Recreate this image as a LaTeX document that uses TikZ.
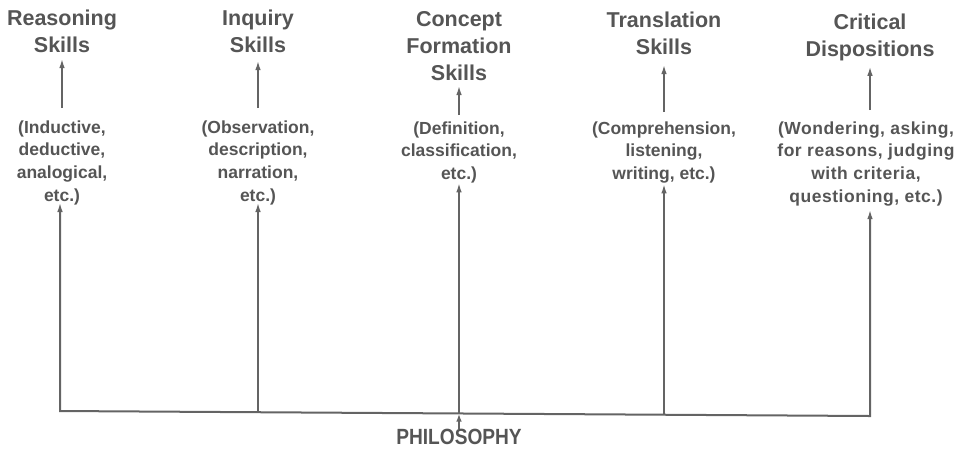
\documentclass[tikz,border=0pt]{standalone}
\usepackage{fontspec}
\usepackage{graphicx}
\setmainfont{Liberation Sans}
\usetikzlibrary{arrows.meta}
\definecolor{ink}{HTML}{555555}
\definecolor{rule}{HTML}{646464}
\begin{document}
\begin{tikzpicture}[x=1pt,y=-1pt,
  every node/.style={inner sep=0pt, outer sep=0pt, text=ink, align=center, anchor=north},
  title/.style={font=\fontsize{21.5}{27}\selectfont\bfseries},
  desc/.style={font=\fontsize{17.5}{22.7}\selectfont\bfseries},
  tip/.style={-{Latex[length=10pt,width=5.5pt]}},
  link/.style={draw=rule, line width=2pt, tip}]
  \useasboundingbox (0,0) rectangle (960,448);

  % skill titles
  \node[title] (t1) at (62,10.3)  {Reasoning\\Skills};
  \node[title] (t2) at (258,10.3) {Inquiry\\Skills};
  \node[title] (t3) at (459,11.8) {Concept\\Formation\\Skills};
  \node[title] (t4) at (664,12.3) {Translation\\Skills};
  \node[title] (t5) at (870,14.3) {Critical\\Dispositions};

  % examples of each skill
  \node[desc] (d1) at (62,120.6)  {(Inductive,\\deductive,\\analogical,\\etc.)};
  \node[desc] (d2) at (258,120.6) {(Observation,\\description,\\narration,\\etc.)};
  \node[desc] (d3) at (459,121.6) {(Definition,\\classification,\\etc.)};
  \node[desc] (d4) at (664,121.6) {(Comprehension,\\listening,\\writing, etc.)};
  \node[desc, font=\fontsize{17.5}{22.7}\selectfont\bfseries\addfontfeature{LetterSpace=3}]
    (d5) at (866,121.6) {(Wondering, asking,\\for reasons, judging\\with criteria,\\questioning, etc.)};

  % the root
  \node[anchor=center, font=\fontsize{22}{22}\selectfont\bfseries] (phil) at (459,437)
    {\scalebox{0.87}[1]{PHILOSOPHY}};

  % points where the branches leave the base line
  \coordinate (b1) at (60,411);
  \coordinate (b2) at (258,412.2);
  \coordinate (b3) at (459,413.5);
  \coordinate (b4) at (664,414.7);
  \coordinate (b5) at (870,416);

  % examples -> titles
  \draw[link, shorten <=12.6pt, shorten >=5pt] (d1.north) -- (t1.south);
  \draw[link, shorten <=12.6pt, shorten >=7pt] (d2.north) -- (t2.south);
  \draw[link, shorten <=6.6pt,  shorten >=4pt] (d3.north) -- (t3.south);
  \draw[link, shorten <=9.6pt,  shorten >=9pt] (d4.north) -- (t4.south);
  \draw[link, shorten <=11.6pt, shorten >=4.5pt] (d5.north -| t5.south) -- (t5.south);

  % base line with the two outer branches
  \draw[draw=rule, line width=2pt, {Latex[length=10pt,width=5.5pt]}-{Latex[length=10pt,width=5.5pt]},
        shorten <=-3pt, shorten >=3pt]
    (d1.south -| b1) -- (b1) -- (b5) -- (d5.south -| b5);

  % inner branches
  \draw[link, shorten >=-3pt] (b2) -- (d2.south);
  \draw[link, shorten >=-1pt] (b3) -- (d3.south);
  \draw[link, shorten >=0pt]  (b4) -- (d4.south);

  % philosophy feeds the base line
  \draw[link, -{Latex[length=8pt,width=5.5pt]}] (phil.north) -- (b3);
\end{tikzpicture}
\end{document}
